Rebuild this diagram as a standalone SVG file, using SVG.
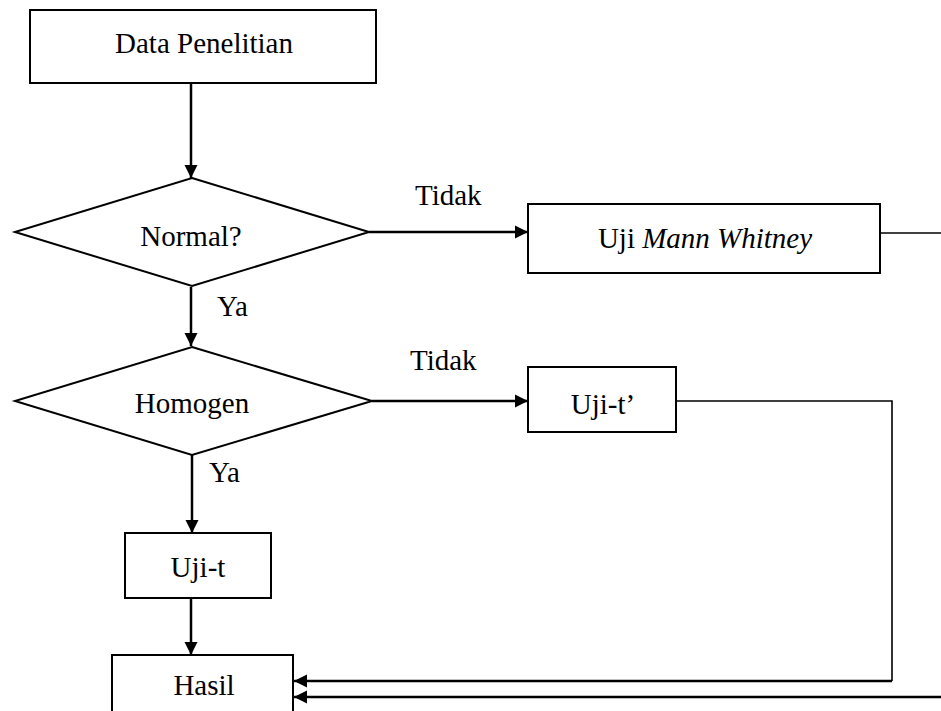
<svg xmlns="http://www.w3.org/2000/svg" width="941" height="711" viewBox="0 0 941 711">
<defs>
<marker id="ah" markerUnits="userSpaceOnUse" markerWidth="14" markerHeight="14" refX="13" refY="7" orient="auto">
<path d="M0,0.5 L13,7 L0,13.5 z" fill="#000"/>
</marker>
<style>
.shape{fill:#fff;stroke:#000;stroke-width:2}
text{font-family:'Liberation Serif','Times New Roman',Times,'DejaVu Serif','Noto Serif',serif;font-size:29px;fill:#000}
.t{text-anchor:middle}
.c{fill:none;stroke:#000;stroke-width:2.5}
.a{fill:none;stroke:#000;stroke-width:2.5;marker-end:url(#ah)}
.thin{fill:none;stroke:#000;stroke-width:1.6}
</style>
</defs>
<rect width="941" height="711" fill="#fff"/>
<g id="connectors">
<line class="a" x1="191" y1="84" x2="191" y2="178"/>
<line class="a" x1="369" y1="232" x2="528" y2="232"/>
<line class="a" x1="191" y1="287" x2="191" y2="346"/>
<line class="a" x1="372" y1="401" x2="528" y2="401"/>
<line class="a" x1="192" y1="455" x2="192" y2="533"/>
<line class="a" x1="191" y1="599" x2="191" y2="655"/>
<line class="thin" x1="880" y1="233" x2="941" y2="233"/>
<polyline class="thin" points="676,401 892,401 892,681"/>
<line class="a" x1="892" y1="681" x2="294" y2="681"/>
<line class="a" x1="941" y1="697" x2="294" y2="697"/>
<text x="415" y="205" font-family="Liberation Serif, serif">Tidak</text>
<text x="217" y="316" font-family="Liberation Serif, serif">Ya</text>
<text x="410" y="370" font-family="Liberation Serif, serif">Tidak</text>
<text x="209" y="482" font-family="Liberation Serif, serif">Ya</text>
</g>
<g id="data">
<rect class="shape" x="30" y="10" width="346" height="73"/>
<text class="t" x="204" y="53">Data Penelitian</text>
</g>
<g id="normal">
<polygon class="shape" points="192,178 369,232 192,286 15,232"/>
<text class="t" x="191" y="246">Normal?</text>
</g>
<g id="mannwhitney">
<rect class="shape" x="528" y="204" width="352" height="69"/>
<text class="t" x="705" y="248">Uji <tspan font-style="italic">Mann Whitney</tspan></text>
</g>
<g id="homogen">
<polygon class="shape" points="192,347 372,401 192,455 15,401"/>
<text class="t" x="192" y="413">Homogen</text>
</g>
<g id="ujit2">
<rect class="shape" x="528" y="367" width="148" height="65"/>
<text class="t" x="603" y="414">Uji-t’</text>
</g>
<g id="ujit">
<rect class="shape" x="125" y="533" width="146" height="65"/>
<text class="t" x="198" y="577">Uji-t</text>
</g>
<g id="hasil">
<rect class="shape" x="112" y="655" width="181" height="70"/>
<text class="t" x="204" y="695">Hasil</text>
</g>
</svg>
